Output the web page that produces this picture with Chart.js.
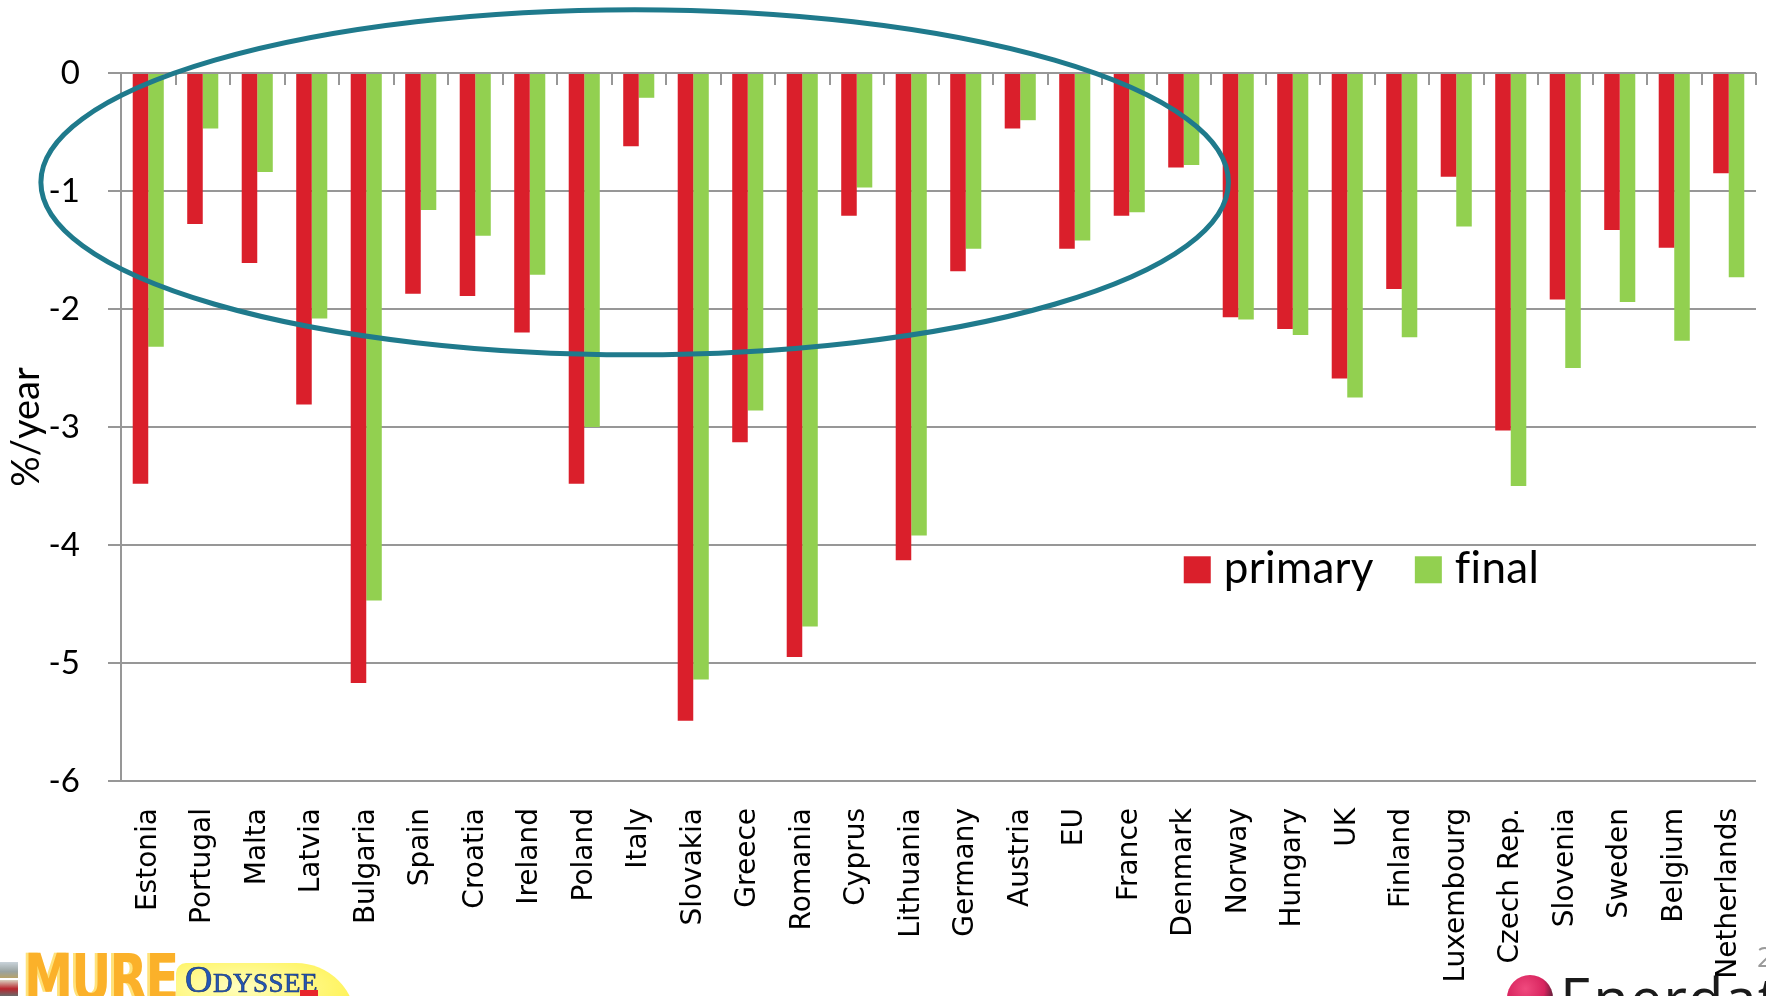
<!DOCTYPE html>
<html>
<head>
<meta charset="utf-8">
<script src="https://cdn.jsdelivr.net/npm/chart.js@4/dist/chart.umd.min.js"></script>
<style>
  html, body { margin: 0; padding: 0; background: #fff; overflow: hidden; }
  #wrap { position: relative; width: 1766px; height: 996px; overflow: hidden; background: #fff; }
  #c { position: absolute; left: 0; top: 0; }
  .icon { position: absolute; left: 0; width: 18px; height: 16px; }
  #ico1 { top: 962px; background: linear-gradient(#c9d3da, #9aa3a0 60%, #b7a36a); }
  #ico2 { top: 980px; background: linear-gradient(#d9d2c0, #b8262e 55%, #6a6a6a); }
  #mure {
    position: absolute; left: 24px; top: 946px; font-family: "DejaVu Sans"; font-weight: bold;
    font-size: 52px; line-height: 1; color: #fbb12a; letter-spacing: -2px;
    text-shadow: -3px 0 #ffe27a; transform-origin: left top; transform: scale(0.95, 1.25);
  }
  #blob {
    position: absolute; left: 176px; top: 963px; width: 180px; height: 60px;
    background: radial-gradient(ellipse at 35% 40%, #ffffc0, #fff35a 70%);
    border-radius: 10px 60px 0 0;
  }
  #ody {
    position: absolute; left: 185px; top: 960px; font-family: "Liberation Serif"; font-size: 27px;
    line-height: 1; color: #2357b8; letter-spacing: 0.5px; -webkit-text-stroke: 0.6px #15306a;
  }
  #ody .big { font-size: 38px; }
  #arrow { position: absolute; left: 300px; top: 990px; width: 18px; height: 8px; background: #e8252b; }
  #ball {
    position: absolute; left: 1507px; top: 975px; width: 46px; height: 46px; border-radius: 50%;
    background: radial-gradient(circle at 40% 30%, #f04a7e, #d8255f 45%, #1a1a22 80%);
  }
  #ener {
    position: absolute; left: 1560px; top: 969px; font-family: "Open Sans"; font-size: 58px;
    line-height: 1; color: #1b1b1b; letter-spacing: 1px;
  }
  #pg { position: absolute; left: 1757px; top: 942px; font-family: "Open Sans"; font-size: 28px; line-height: 1; color: #9a9a9a; }
</style>
</head>
<body>
<div id="wrap">
  <canvas id="c" width="1766" height="996"></canvas>
  <div id="ico1" class="icon"></div>
  <div id="ico2" class="icon"></div>
  <div id="mure">MURE</div>
  <div id="blob"></div>
  <div id="ody"><span class="big">O</span>DYSSEE</div>
  <div id="arrow"></div>
  <div id="ball"></div>
  <div id="ener">Enerdata</div>
  <div id="pg">2</div>
</div>
<script>
// Average annual change in energy consumption, %/year
const categories = ['Estonia', 'Portugal', 'Malta', 'Latvia', 'Bulgaria', 'Spain', 'Croatia', 'Ireland',
  'Poland', 'Italy', 'Slovakia', 'Greece', 'Romania', 'Cyprus', 'Lithuania', 'Germany', 'Austria', 'EU',
  'France', 'Denmark', 'Norway', 'Hungary', 'UK', 'Finland', 'Luxembourg', 'Czech Rep.', 'Slovenia',
  'Sweden', 'Belgium', 'Netherlands'];

const primary = [-3.48, -1.28, -1.61, -2.81, -5.17, -1.87, -1.89, -2.20, -3.48, -0.62, -5.49, -3.13,
  -4.95, -1.21, -4.13, -1.68, -0.47, -1.49, -1.21, -0.80, -2.07, -2.17, -2.59, -1.83, -0.88, -3.03,
  -1.92, -1.33, -1.48, -0.85];

const final = [-2.32, -0.47, -0.84, -2.08, -4.47, -1.16, -1.38, -1.71, -3.00, -0.21, -5.14, -2.86,
  -4.69, -0.97, -3.92, -1.49, -0.40, -1.42, -1.18, -0.78, -2.09, -2.22, -2.75, -2.24, -1.30, -3.50,
  -2.50, -1.94, -2.27, -1.73];

const seriesNames = ['primary', 'final'];
const yTickValues = [0, -1, -2, -3, -4, -5, -6];
const yTitle = '%/year';

// styling
const RED = '#da1f2b';
const GREEN = '#92d050';
const GRID = '#979797';
const RING = '#1f7a8c';

// outline around the first group of countries, in axis units (category index, %/year)
const ring = { xFrom: -1.97, xTo: 19.82, yTop: 0.537, yBottom: -2.388 };
// legend anchor, in axis units
const legendAnchor = { index: 19, value: -4.21 };

const extras = {
  id: 'extras',
  afterDatasetsDraw(chart) {
    const { ctx, scales: { x, y } } = chart;
    ctx.save();

    // category tick marks hanging below the zero line
    const y0 = y.getPixelForValue(0);
    ctx.strokeStyle = GRID;
    ctx.lineWidth = 2;
    for (let i = 0; i <= chart.data.labels.length; i++) {
      const px = Math.round(x.getPixelForValue(i - 0.5));
      ctx.beginPath();
      ctx.moveTo(px, y0);
      ctx.lineTo(px, y0 + 12);
      ctx.stroke();
    }

    // ellipse
    const x1 = x.getPixelForValue(ring.xFrom), x2 = x.getPixelForValue(ring.xTo);
    const y1 = y.getPixelForValue(ring.yTop), y2 = y.getPixelForValue(ring.yBottom);
    ctx.beginPath();
    ctx.ellipse((x1 + x2) / 2, (y1 + y2) / 2, (x2 - x1) / 2, (y2 - y1) / 2, 0, 0, Math.PI * 2);
    ctx.strokeStyle = RING;
    ctx.lineWidth = 5;
    ctx.stroke();

    // legend
    const ax = x.getPixelForValue(legendAnchor.index);
    const ay = y.getPixelForValue(legendAnchor.value);
    ctx.font = '44px Lato';
    if ('letterSpacing' in ctx) ctx.letterSpacing = '0.3px';
    ctx.textBaseline = 'alphabetic';
    ctx.textAlign = 'left';
    let cx = ax;
    chart.data.datasets.forEach(ds => {
      ctx.fillStyle = ds.backgroundColor;
      ctx.fillRect(cx, ay - 13.5, 27, 27);
      ctx.fillStyle = '#000';
      ctx.fillText(ds.label, cx + 40, ay + 13);
      cx += 40 + ctx.measureText(ds.label).width + 41;
    });
    ctx.restore();
  }
};

new Chart(document.getElementById('c'), {
  type: 'bar',
  data: {
    labels: categories,
    datasets: [
      { label: seriesNames[0], data: primary, backgroundColor: RED, borderWidth: 0,
        categoryPercentage: 0.57, barPercentage: 1.0 },
      { label: seriesNames[1], data: final, backgroundColor: GREEN, borderWidth: 0,
        categoryPercentage: 0.57, barPercentage: 1.0 }
    ]
  },
  options: {
    responsive: false,
    devicePixelRatio: 1,
    animation: false,
    layout: { padding: { top: 73, right: 10, left: 0, bottom: 0 } },
    plugins: { legend: { display: false }, tooltip: { enabled: false } },
    scales: {
      x: {
        grid: { display: false, drawTicks: false },
        border: { display: false },
        ticks: {
          autoSkip: false, minRotation: 90, maxRotation: 90, padding: 27, color: '#000',
          font: { family: 'DejaVu Sans', size: 28 }
        },
        afterFit(scale) {
          scale.height = 215;
          scale.paddingLeft = 0;
          scale.paddingRight = 0;
        }
      },
      y: {
        min: -6, max: 0,
        afterBuildTicks(scale) { scale.ticks = yTickValues.map(v => ({ value: v })); },
        ticks: { padding: 28, color: '#000', font: { family: 'Lato', size: 33 } },
        grid: { color: GRID, lineWidth: 2, tickLength: 13 },
        border: { color: GRID, width: 2 },
        title: {
          display: true, text: yTitle, color: '#000',
          font: { family: 'Lato', size: 38 }, padding: { top: 4, bottom: 0 }
        },
        afterFit(scale) { scale.width = 121; }
      }
    }
  },
  plugins: [extras]
});
</script>
</body>
</html>
